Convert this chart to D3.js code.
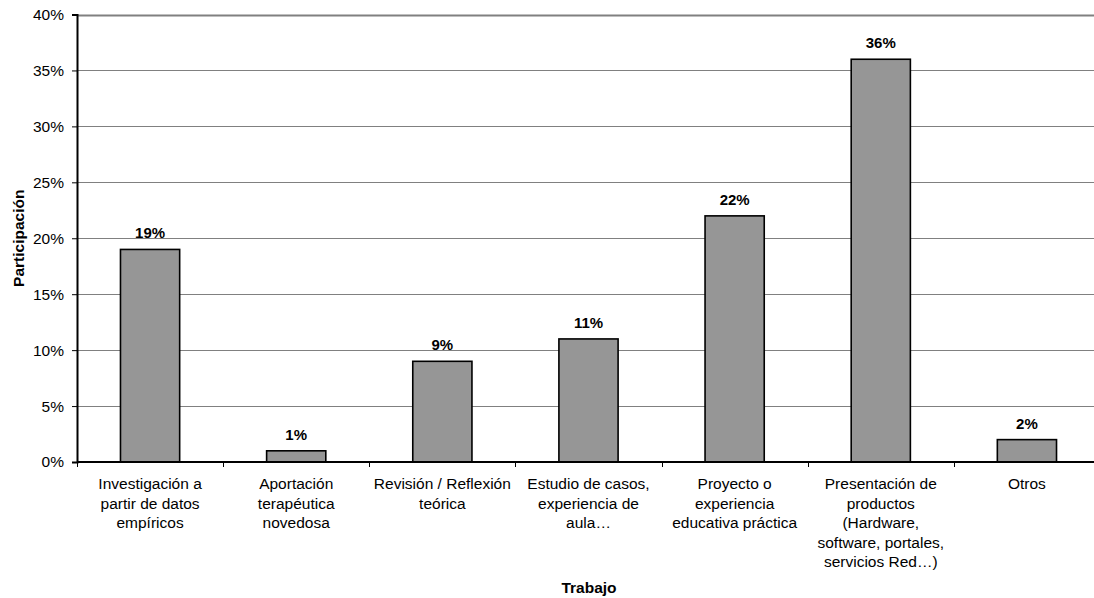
<!DOCTYPE html>
<html>
<head>
<meta charset="utf-8">
<script src="https://cdn.jsdelivr.net/npm/d3@7"></script>
<style>
  html, body { margin: 0; padding: 0; background: #fff; }
  svg { display: block; font-family: "Liberation Sans", Arial, sans-serif; }
</style>
</head>
<body>
<svg id="chart" width="1094" height="598"></svg>
<script>
// Categories (multi-line labels) and participation values in percent
const categories = [
  ["Investigación a", "partir de datos", "empíricos"],
  ["Aportación", "terapéutica", "novedosa"],
  ["Revisión / Reflexión", "teórica"],
  ["Estudio de casos,", "experiencia de", "aula…"],
  ["Proyecto o", "experiencia", "educativa práctica"],
  ["Presentación de", "productos", "(Hardware,", "software, portales,", "servicios Red…)"],
  ["Otros"]
];
const values = [19, 1, 9, 11, 22, 36, 2];
const yTicks = [0, 5, 10, 15, 20, 25, 30, 35, 40];

const FS = 15.5;
const svg = d3.select("#chart");
const W = 1094, H = 598;
const x0 = 77, x1 = 1100;
const yTop = 14.5, yBot = 462;

const x = d3.scaleBand()
  .domain(d3.range(categories.length))
  .range([x0, x1])
  .paddingInner(0)
  .paddingOuter(0);

const y = d3.scaleLinear().domain([0, 40]).range([yBot, yTop]);

// horizontal gridlines
svg.append("g")
  .selectAll("line")
  .data(yTicks.filter(d => d > 0))
  .join("line")
  .attr("x1", x0).attr("x2", x1)
  .attr("y1", d => Math.round(y(d)) + 0.5)
  .attr("y2", d => Math.round(y(d)) + 0.5)
  .attr("stroke", "#808080")
  .attr("stroke-width", d => d === 40 ? 2 : 1);

// bars
const barW = x.bandwidth() * 0.405;
svg.append("g")
  .selectAll("rect")
  .data(values)
  .join("rect")
  .attr("x", (d, i) => x(i) + (x.bandwidth() - barW) / 2)
  .attr("y", d => y(d))
  .attr("width", barW)
  .attr("height", d => yBot - y(d))
  .attr("fill", "#969696")
  .attr("stroke", "#000")
  .attr("stroke-width", 1.6);

// value labels
svg.append("g")
  .selectAll("text")
  .data(values)
  .join("text")
  .attr("x", (d, i) => x(i) + x.bandwidth() / 2)
  .attr("y", d => y(d) - 11)
  .attr("text-anchor", "middle")
  .attr("font-size", 15)
  .attr("font-weight", "bold")
  .text(d => d + "%");

// y axis
const yAxis = d3.axisLeft(y)
  .tickValues(yTicks)
  .tickSize(5)
  .tickPadding(8)
  .tickFormat(d => d + "%");
const gy = svg.append("g")
  .attr("transform", `translate(${x0},0)`)
  .call(yAxis);
gy.select(".domain").attr("stroke", "#000").attr("stroke-width", 2);
gy.selectAll(".tick line").attr("stroke", "#000");
gy.selectAll(".tick text").attr("font-size", FS).attr("fill", "#000")
  .attr("font-family", "Liberation Sans, Arial, sans-serif");

// x axis baseline and category separators
svg.append("line")
  .attr("x1", x0).attr("x2", x1)
  .attr("y1", yBot).attr("y2", yBot)
  .attr("stroke", "#000").attr("stroke-width", 2);
svg.append("g")
  .selectAll("line")
  .data(d3.range(categories.length))
  .join("line")
  .attr("x1", i => Math.round(x(i)) + 0.5)
  .attr("x2", i => Math.round(x(i)) + 0.5)
  .attr("y1", yBot).attr("y2", yBot + 5)
  .attr("stroke", "#000");

// category labels
const lab = svg.append("g")
  .selectAll("text")
  .data(categories)
  .join("text")
  .attr("text-anchor", "middle")
  .attr("font-size", FS)
  .attr("fill", "#000");
lab.each(function (lines, i) {
  d3.select(this).selectAll("tspan")
    .data(lines)
    .join("tspan")
    .attr("x", x(i) + x.bandwidth() / 2)
    .attr("y", (l, k) => 489 + k * 19.5)
    .text(l => l);
});

// axis titles
svg.append("text")
  .attr("x", 589)
  .attr("y", 593)
  .attr("text-anchor", "middle")
  .attr("font-size", FS)
  .attr("font-weight", "bold")
  .text("Trabajo");

svg.append("text")
  .attr("transform", `translate(23.5,${(yTop + yBot) / 2}) rotate(-90)`)
  .attr("text-anchor", "middle")
  .attr("font-size", FS)
  .attr("font-weight", "bold")
  .text("Participación");
</script>
</body>
</html>
